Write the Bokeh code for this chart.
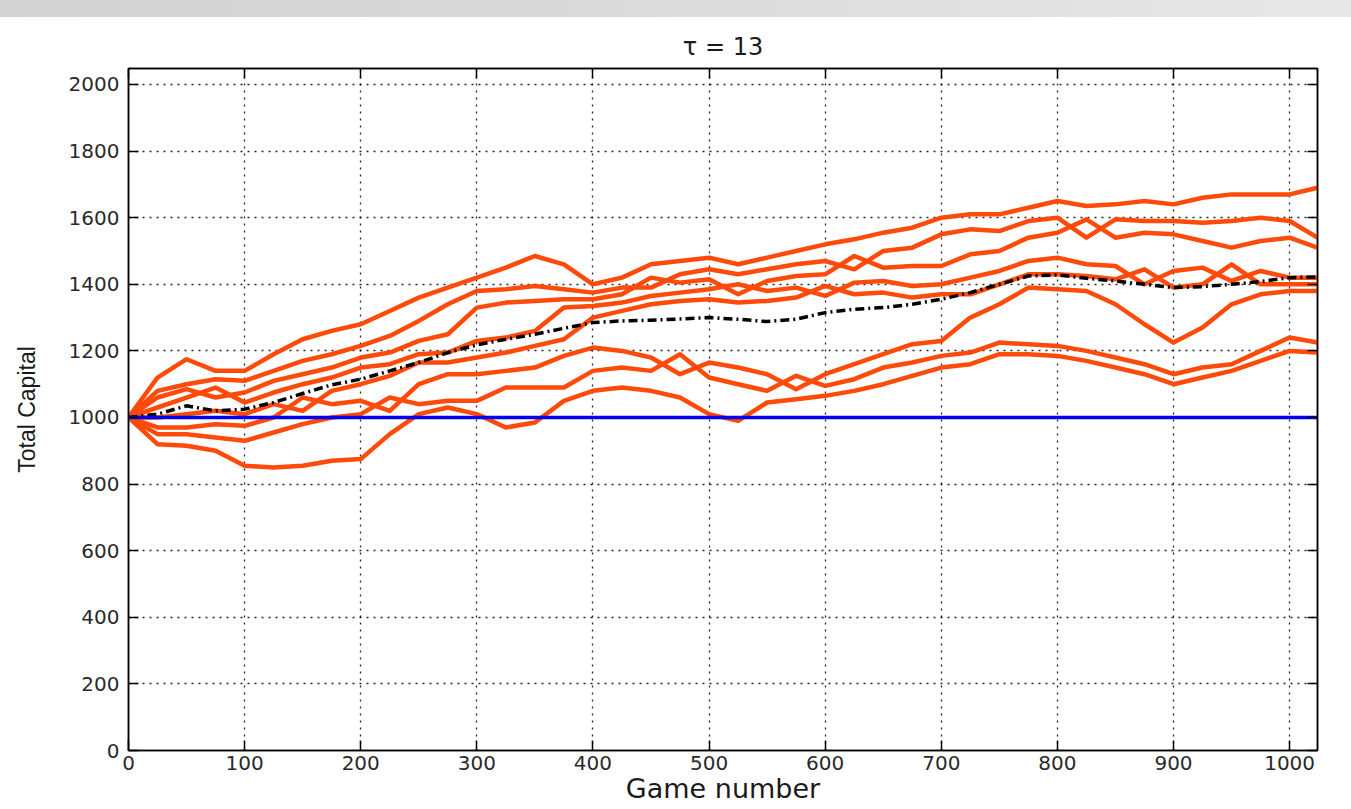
from bokeh.plotting import figure
from bokeh.models import Range1d, LinearAxis, FixedTicker, Div
from bokeh.layouts import column
from bokeh.embed import file_html
from bokeh.resources import INLINE

# ---------------- data ----------------
games = [0, 25, 50, 75, 100, 125, 150, 175, 200, 225, 250, 275, 300, 325, 350,
         375, 400, 425, 450, 475, 500, 525, 550, 575, 600, 625, 650, 675, 700,
         725, 750, 775, 800, 825, 850, 875, 900, 925, 950, 975, 1000, 1024]

run1 = [1000, 1120, 1175, 1140, 1140, 1190, 1235, 1260, 1280, 1320, 1360, 1390, 1420, 1450,
        1485, 1460, 1400, 1420, 1460, 1470, 1480, 1460, 1480, 1500, 1520, 1535, 1555, 1570,
        1600, 1610, 1610, 1630, 1650, 1635, 1640, 1650, 1640, 1660, 1670, 1670, 1670, 1690]
run2 = [1000, 1080, 1100, 1115, 1110, 1140, 1170, 1190, 1215, 1245, 1290, 1340, 1380, 1385,
        1395, 1385, 1375, 1390, 1390, 1430, 1445, 1430, 1445, 1460, 1470, 1445, 1500, 1510,
        1550, 1565, 1560, 1590, 1600, 1540, 1595, 1590, 1590, 1585, 1590, 1600, 1590, 1540]
run3 = [1000, 1060, 1085, 1060, 1075, 1110, 1130, 1150, 1180, 1195, 1230, 1250, 1330, 1345,
        1350, 1355, 1355, 1370, 1420, 1405, 1415, 1370, 1410, 1425, 1430, 1485, 1450, 1455,
        1455, 1490, 1500, 1540, 1555, 1595, 1540, 1555, 1550, 1530, 1510, 1530, 1540, 1510]
run4 = [1000, 1030, 1060, 1090, 1045, 1075, 1100, 1120, 1150, 1160, 1190, 1195, 1230, 1240,
        1260, 1330, 1335, 1345, 1365, 1375, 1385, 1400, 1380, 1390, 1365, 1405, 1410, 1395,
        1400, 1420, 1440, 1470, 1480, 1460, 1455, 1400, 1440, 1450, 1410, 1440, 1420, 1420]
run5 = [1000, 1000, 1010, 1020, 1010, 1040, 1020, 1080, 1100, 1125, 1165, 1165, 1180, 1195,
        1215, 1235, 1300, 1320, 1340, 1350, 1355, 1345, 1350, 1360, 1395, 1370, 1375, 1360,
        1370, 1370, 1400, 1430, 1430, 1425, 1415, 1445, 1390, 1400, 1460, 1400, 1400, 1400]
run6 = [1000, 970, 970, 980, 975, 1000, 1060, 1040, 1050, 1020, 1100, 1130, 1130, 1140,
        1150, 1185, 1210, 1200, 1180, 1130, 1165, 1150, 1130, 1085, 1130, 1160, 1190, 1220,
        1230, 1300, 1340, 1390, 1385, 1380, 1340, 1280, 1225, 1270, 1340, 1370, 1380, 1380]
run7 = [1000, 950, 950, 940, 930, 955, 980, 1000, 1010, 1060, 1040, 1050, 1050, 1090,
        1090, 1090, 1140, 1150, 1140, 1190, 1120, 1100, 1080, 1125, 1095, 1115, 1150, 1165,
        1185, 1195, 1225, 1220, 1215, 1200, 1180, 1160, 1130, 1150, 1160, 1200, 1240, 1225]
run8 = [1000, 920, 915, 900, 855, 850, 855, 870, 875, 950, 1010, 1030, 1010, 970,
        985, 1050, 1080, 1090, 1080, 1060, 1010, 990, 1045, 1055, 1065, 1080, 1100, 1125,
        1150, 1160, 1190, 1190, 1185, 1170, 1150, 1130, 1100, 1120, 1140, 1170, 1200, 1195]

average = [1000, 1010, 1035, 1020, 1025, 1045, 1072, 1098, 1115, 1140, 1165, 1195, 1218, 1235,
           1250, 1268, 1285, 1290, 1292, 1296, 1300, 1295, 1288, 1295, 1315, 1325, 1330, 1340,
           1355, 1375, 1400, 1425, 1428, 1418, 1410, 1400, 1390, 1393, 1400, 1408, 1420, 1422]

baseline_x = [0, 1024]
baseline_y = [1000, 1000]

x_ticks = [0, 100, 200, 300, 400, 500, 600, 700, 800, 900, 1000]
y_ticks = [0, 200, 400, 600, 800, 1000, 1200, 1400, 1600, 1800, 2000]

title_text = "\u03c4 = 13"
x_label = "Game number"
y_label = "Total Capital"

# ---------------- figure ----------------
p = figure(width=1351, height=792, output_backend="svg", toolbar_location=None,
           x_range=Range1d(0, 1024), y_range=Range1d(0, 2048),
           min_border_left=128, min_border_right=34, min_border_top=51, min_border_bottom=59,
           background_fill_color="white", border_fill_color="white")

p.title.text = title_text
p.title.align = "center"
p.title.text_font = "DejaVu Sans"
p.title.text_font_size = "24px"
p.title.text_font_style = "normal"
p.title.text_color = "#1a1a1a"
p.title.standoff = 15

p.outline_line_color = "black"
p.outline_line_width = 1.5

orange = "#FF4A0A"
for run in [run1, run2, run3, run4, run5, run6, run7, run8]:
    p.line(games, run, line_color=orange, line_width=4.5, line_join="round")

p.line(games, average, line_color="black", line_width=3.5, line_dash="9 4 2 4")
p.line(baseline_x, baseline_y, line_color="#0000EE", line_width=3.5)

# axes
def style_axis(ax, show_labels=True):
    ax.major_tick_in = 10
    ax.major_tick_out = 0
    ax.minor_tick_in = 0
    ax.minor_tick_out = 0
    ax.axis_line_color = "black"
    ax.axis_line_width = 1.5
    ax.major_tick_line_color = "black"
    ax.major_tick_line_width = 1.5
    if show_labels:
        ax.major_label_text_font = "DejaVu Sans"
        ax.major_label_text_font_size = "20px"
        ax.major_label_text_color = "#2a2a2a"
    else:
        ax.major_label_text_font_size = "1px"
        ax.major_label_text_color = None
        ax.major_label_standoff = 0

p.xaxis.ticker = FixedTicker(ticks=x_ticks)
p.yaxis.ticker = FixedTicker(ticks=y_ticks)
style_axis(p.xaxis[0])
style_axis(p.yaxis[0])
p.xaxis.major_label_standoff = 5
p.yaxis.major_label_standoff = 9
p.xaxis.axis_label = x_label
p.xaxis.axis_label_text_font = "DejaVu Sans"
p.xaxis.axis_label_text_font_size = "27px"
p.xaxis.axis_label_text_font_style = "normal"
p.xaxis.axis_label_text_color = "#1a1a1a"
p.xaxis.axis_label_standoff = 0
p.yaxis.axis_label = y_label
p.yaxis.axis_label_text_font = "Liberation Sans"
p.yaxis.axis_label_text_font_size = "23px"
p.yaxis.axis_label_text_font_style = "normal"
p.yaxis.axis_label_text_color = "#1a1a1a"
p.yaxis.axis_label_standoff = 26

right_ax = LinearAxis(ticker=FixedTicker(ticks=y_ticks))
style_axis(right_ax, show_labels=False)
p.add_layout(right_ax, "right")
top_ax = LinearAxis(ticker=FixedTicker(ticks=x_ticks))
style_axis(top_ax, show_labels=False)
p.add_layout(top_ax, "above")

p.xgrid.ticker = FixedTicker(ticks=x_ticks)
p.ygrid.ticker = FixedTicker(ticks=y_ticks)
p.grid.grid_line_color = "black"
p.grid.grid_line_dash = "2 5"
p.grid.grid_line_width = 1.3
p.grid.grid_line_alpha = 0.85

band = Div(text="", width=1351, height=17,
           styles={"background": "linear-gradient(to right, #d2d2d2, #dcdcdc 55%, #e8e8e8)"},
           margin=(0, 0, 0, 0))

layout = column(band, p, spacing=0)
open("out.html", "w").write(file_html(layout, INLINE))
